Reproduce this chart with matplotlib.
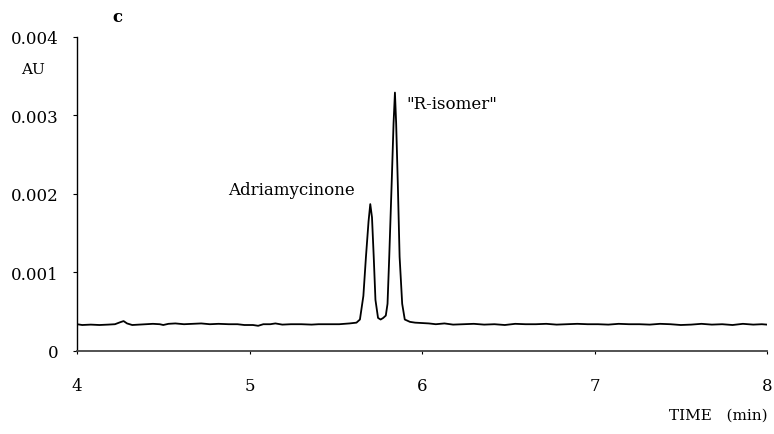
"""Chromatogram panel c: Adriamycinone and "R-isomer" peaks (absorbance vs. time)."""
import matplotlib
matplotlib.use("Agg")
import matplotlib.pyplot as plt

# trace (time in min, absorbance in AU)
time_min = [
    4.00, 4.03, 4.08, 4.13, 4.18, 4.22, 4.25, 4.27, 4.29, 4.32, 4.36, 4.40,
    4.44, 4.48, 4.50, 4.53, 4.57, 4.62, 4.67, 4.72, 4.77, 4.82, 4.88, 4.93,
    4.97, 5.02, 5.05, 5.08, 5.12, 5.15, 5.19, 5.24, 5.30, 5.36, 5.40, 5.46,
    5.52, 5.58, 5.62, 5.64, 5.66, 5.675, 5.69, 5.70, 5.71, 5.72, 5.73, 5.745,
    5.76, 5.775, 5.79, 5.80, 5.81, 5.825, 5.835, 5.843, 5.85, 5.86, 5.87,
    5.885, 5.90, 5.93, 5.96, 6.00, 6.04, 6.08, 6.13, 6.18, 6.24, 6.30, 6.36,
    6.42, 6.48, 6.54, 6.60, 6.66, 6.72, 6.78, 6.84, 6.90, 6.96, 7.02, 7.08,
    7.14, 7.20, 7.26, 7.32, 7.38, 7.44, 7.50, 7.56, 7.62, 7.68, 7.74, 7.80,
    7.86, 7.92, 7.97, 8.00,
]
absorbance = [
    0.000340, 0.000330, 0.000335, 0.000330, 0.000335, 0.000340, 0.000365,
    0.000380, 0.000350, 0.000330, 0.000335, 0.000340, 0.000345, 0.000340,
    0.000330, 0.000345, 0.000350, 0.000340, 0.000345, 0.000350, 0.000340,
    0.000345, 0.000340, 0.000340, 0.000330, 0.000330, 0.000320, 0.000340,
    0.000340, 0.000350, 0.000335, 0.000340, 0.000340, 0.000335, 0.000340,
    0.000340, 0.000340, 0.000350, 0.000360, 0.000400, 0.000700, 0.001200,
    0.001650, 0.001870, 0.001700, 0.001200, 0.000650, 0.000420, 0.000400,
    0.000420, 0.000450, 0.000600, 0.001200, 0.002200, 0.002900, 0.003290,
    0.002900, 0.002100, 0.001200, 0.000600, 0.000400, 0.000370, 0.000360,
    0.000355, 0.000350, 0.000340, 0.000350, 0.000335, 0.000340, 0.000345,
    0.000335, 0.000340, 0.000330, 0.000345, 0.000340, 0.000340, 0.000345,
    0.000335, 0.000340, 0.000345, 0.000340, 0.000340, 0.000335, 0.000345,
    0.000340, 0.000340, 0.000335, 0.000345, 0.000340, 0.000330, 0.000335,
    0.000345, 0.000335, 0.000340, 0.000330, 0.000345, 0.000335, 0.000340,
    0.000335,
]

x_ticks = [4, 5, 6, 7, 8]
y_ticks = [0, 0.001, 0.002, 0.003, 0.004]
y_tick_labels = ["0", "0.001", "0.002", "0.003", "0.004"]

plt.rcParams["font.family"] = ["DejaVu Serif"]

fig = plt.figure(figsize=(7.74, 4.35), dpi=100)
ax = fig.add_axes([0.0995, 0.191, 0.8915, 0.722])

ax.plot(time_min, absorbance, color="black", linewidth=1.3)

ax.set_xlim(4, 8)
ax.set_ylim(0, 0.004)
ax.set_xticks(x_ticks)
ax.set_xticklabels([str(t) for t in x_ticks])
ax.set_yticks(y_ticks)
ax.set_yticklabels(y_tick_labels)
ax.tick_params(axis="x", direction="out", length=2.5, width=0.8, pad=16, labelsize=12)
ax.tick_params(axis="y", direction="out", length=3, width=0.8, pad=10, labelsize=12)

for side in ("top", "right"):
    ax.spines[side].set_visible(False)
ax.spines["left"].set_linewidth(1.0)
ax.spines["bottom"].set_linewidth(1.3)
ax.spines["bottom"].set_color("#444444")

ax.text(5.246, 0.00206, "Adriamycinone", fontsize=12, ha="center", va="center")
ax.text(5.91, 0.00315, '"R-isomer"', fontsize=12, ha="left", va="center")

fig.text(33 / 774, 1 - 70 / 435, "AU", fontsize=11, ha="center", va="center")
fig.text(117 / 774, 1 - 17 / 435, "c", fontsize=12, weight="bold",
         ha="center", va="center")
fig.text(768 / 774, 1 - 416 / 435, "TIME   (min)", fontsize=11,
         ha="right", va="center")

fig.savefig("out.png", dpi=100)
